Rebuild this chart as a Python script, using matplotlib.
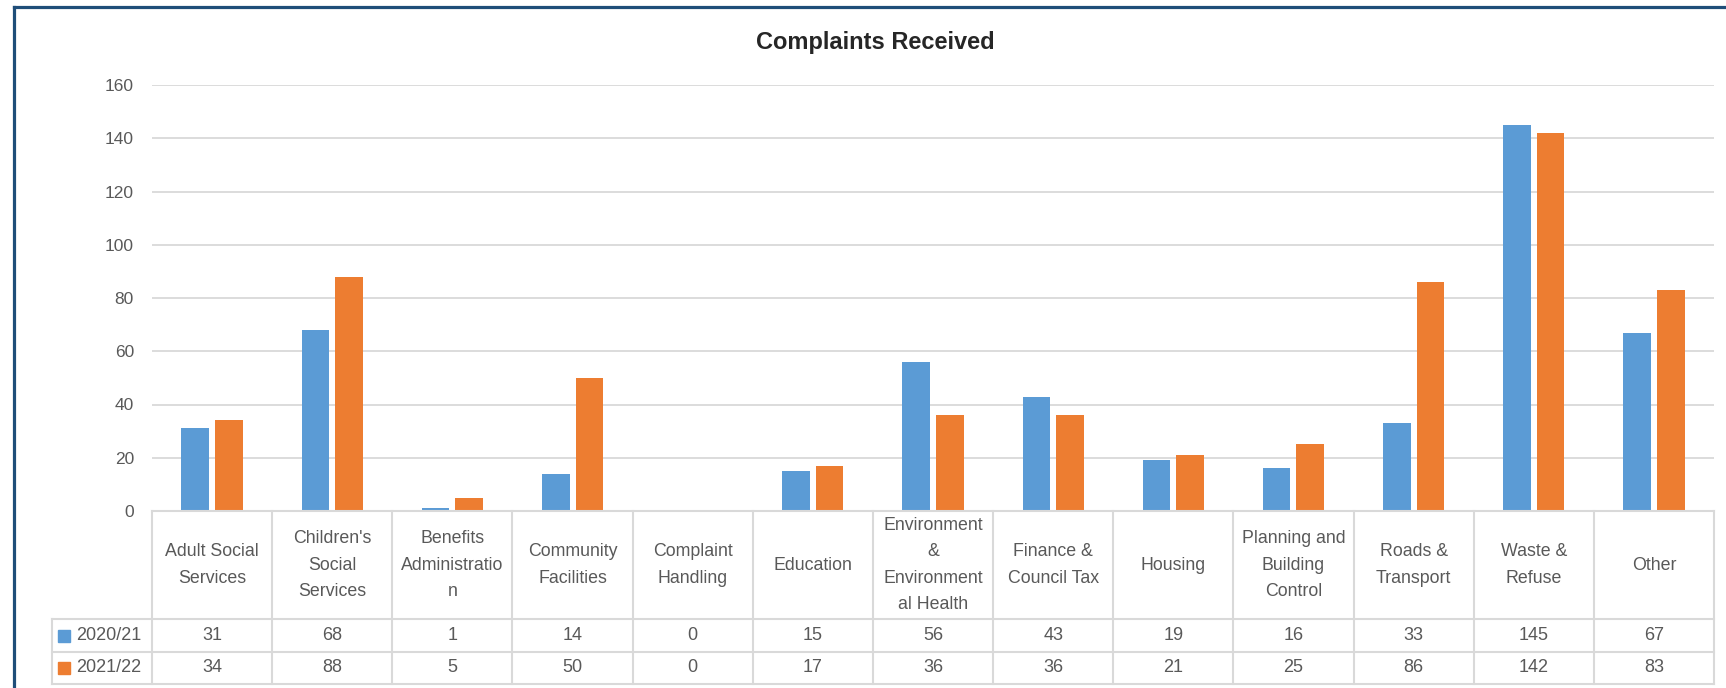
import matplotlib
matplotlib.use("Agg")
import matplotlib.pyplot as plt
import matplotlib.transforms as mtransforms
from matplotlib.lines import Line2D
from matplotlib.patches import Rectangle
import numpy as np

CATEGORIES = [
    "Adult Social\nServices", "Children's\nSocial\nServices", "Benefits\nAdministratio\nn",
    "Community\nFacilities", "Complaint\nHandling", "Education",
    "Environment\n&\nEnvironment\nal Health", "Finance &\nCouncil Tax", "Housing",
    "Planning and\nBuilding\nControl", "Roads &\nTransport", "Waste &\nRefuse", "Other",
]
SERIES = ["2020/21", "2021/22"]
VALUES_2020 = [31, 68, 1, 14, 0, 15, 56, 43, 19, 16, 33, 145, 67]
VALUES_2021 = [34, 88, 5, 50, 0, 17, 36, 36, 21, 25, 86, 142, 83]
COLORS = ["#5B9BD5", "#ED7D31"]
YTICKS = [0, 20, 40, 60, 80, 100, 120, 140, 160]

W, H = 1726, 688
TEXT = "#595959"
GRID = "#D9D9D9"
plt.rcParams["font.family"] = ["Liberation Sans", "DejaVu Sans"]


def fy(y):
    return 1 - y / H


fig = plt.figure(figsize=(W / 100, H / 100), dpi=100)
ax = fig.add_axes([152 / W, fy(511), (1714 - 152) / W, (511 - 85) / H])

n = len(CATEGORIES)
x = np.arange(n)
bw = 0.23
for i, (vals, col) in enumerate(zip([VALUES_2020, VALUES_2021], COLORS)):
    off = (i - 0.5) * 0.28
    ax.bar(x + off, vals, bw, color=col, zorder=3)

ax.set_xlim(-0.5, n - 0.5)
ax.set_ylim(0, 160)
ax.set_yticks(YTICKS)
ax.set_xticks([])
ax.tick_params(axis="y", length=0, pad=13, labelsize=12.5, labelcolor=TEXT)
ax.grid(axis="y", color=GRID, linewidth=1.3, zorder=0)
for s in ax.spines.values():
    s.set_visible(False)

# data table below the plot
tr = mtransforms.blended_transform_factory(ax.transData, fig.transFigure)
y_top, y_head, y_r1, y_r2 = 511, 619, 652, 684
lw = 1.5
for b in np.arange(n + 1) - 0.5:
    fig.add_artist(Line2D([b, b], [fy(y_top), fy(y_r2)], transform=tr, color=GRID, lw=lw))
for yy in [y_top, y_head, y_r1, y_r2]:
    x0 = 52 / W if yy != y_top else 152 / W
    fig.add_artist(Line2D([x0, 1714 / W], [fy(yy), fy(yy)], transform=fig.transFigure,
                          color=GRID, lw=lw))
fig.add_artist(Line2D([52 / W, 52 / W], [fy(y_head), fy(y_r2)], transform=fig.transFigure,
                      color=GRID, lw=lw))

for i, cat in enumerate(CATEGORIES):
    fig.text(i, fy((y_top + y_head) / 2), cat, transform=tr, ha="center", va="center",
             fontsize=12.8, color=TEXT, linespacing=1.7)
    for vals, yc in [(VALUES_2020, (y_head + y_r1) / 2), (VALUES_2021, (y_r1 + y_r2) / 2)]:
        fig.text(i, fy(yc), str(vals[i]), transform=tr, ha="center", va="center",
                 fontsize=13, color=TEXT)

for name, col, yc in zip(SERIES, COLORS, [(y_head + y_r1) / 2, (y_r1 + y_r2) / 2]):
    fig.add_artist(Rectangle((58 / W, fy(yc + 6)), 12 / W, 12 / H,
                             transform=fig.transFigure, color=col))
    fig.text(76 / W, fy(yc), name, ha="left", va="center", fontsize=13, color=TEXT)

fig.text(875 / W, fy(42), "Complaints Received", ha="center", va="center",
         fontsize=17, fontweight="bold", color="#262626")

# chart frame (left and top edges)
frame = "#1F4E79"
fig.add_artist(Line2D([13.5 / W, 13.5 / W], [0, fy(6.5)], transform=fig.transFigure,
                      color=frame, lw=2.3))
fig.add_artist(Line2D([13.5 / W, 1], [fy(6.5), fy(6.5)], transform=fig.transFigure,
                      color=frame, lw=2.3))

fig.savefig("out.png", dpi=100)
